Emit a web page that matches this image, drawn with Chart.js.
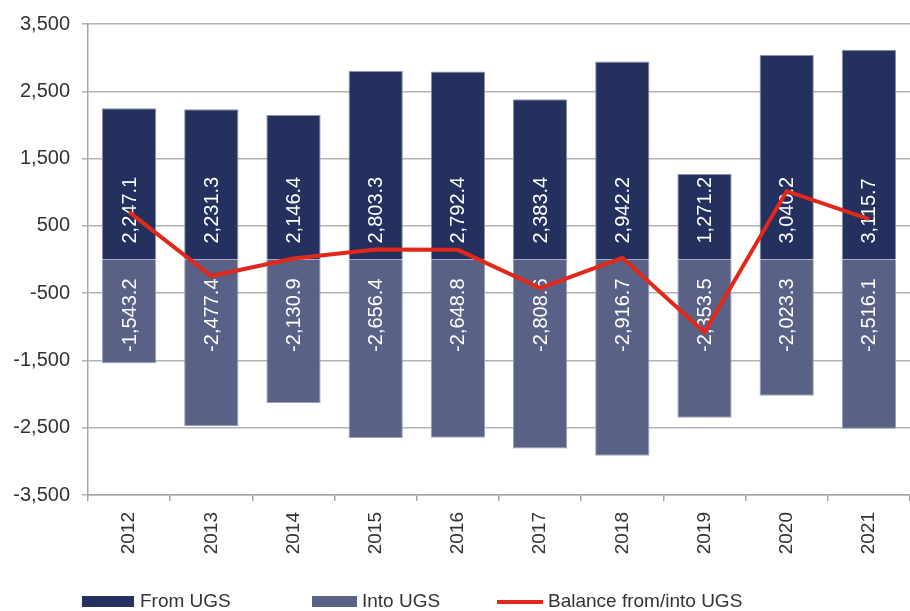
<!DOCTYPE html>
<html>
<head>
<meta charset="utf-8">
<script src="https://cdn.jsdelivr.net/npm/chart.js@4"></script>
<style>
  html, body { margin: 0; padding: 0; background: #fff; }
  #wrap { position: relative; width: 910px; height: 611px; }
  canvas { position: absolute; left: 0; top: 0; }
  .lg { position: absolute; font-family: "Liberation Sans", Arial, sans-serif; font-size: 19px; color: #333; line-height: 20px; white-space: nowrap; }
  .sw { position: absolute; }
</style>
</head>
<body>
<div id="wrap">
  <canvas id="c" width="910" height="611"></canvas>
  <div class="sw" style="left:82px; top:596px; width:52px; height:11px; background:#24305E;"></div>
  <div class="lg" style="left:140px; top:591px;">From UGS</div>
  <div class="sw" style="left:312px; top:596px; width:45px; height:11px; background:#596186;"></div>
  <div class="lg" style="left:362px; top:591px;">Into UGS</div>
  <div class="sw" style="left:497px; top:600px; width:46px; height:4px; background:#E2281B;"></div>
  <div class="lg" style="left:548px; top:591px;">Balance from/into UGS</div>
</div>
<script>
const categories = ["2012","2013","2014","2015","2016","2017","2018","2019","2020","2021"];
const fromUGS = [2247.1, 2231.3, 2146.4, 2803.3, 2792.4, 2383.4, 2942.2, 1271.2, 3040.2, 3115.7];
const intoUGS = [-1543.2, -2477.4, -2130.9, -2656.4, -2648.8, -2808.6, -2916.7, -2353.5, -2023.3, -2516.1];
const balance = [703.9, -246.1, 15.5, 146.9, 143.6, -425.2, 25.5, -1082.3, 1016.9, 599.6];
const yTicks = [-3500, -2500, -1500, -500, 500, 1500, 2500, 3500];

const FONT = '"Liberation Sans", Arial, sans-serif';
const fmt = v => v.toLocaleString('en-US', {minimumFractionDigits: 1, maximumFractionDigits: 1});

const labelPlugin = {
  id: 'barLabels',
  afterDatasetDraw(chart, args) {
    const ds = chart.data.datasets[args.index];
    if (ds.type === 'line') return;
    const ctx = chart.ctx;
    const zero = chart.scales.y.getPixelForValue(0);
    ctx.save();
    ctx.font = '20px ' + FONT;
    ctx.fillStyle = '#ffffff';
    ctx.textBaseline = 'middle';
    args.meta.data.forEach((el, i) => {
      const v = ds.data[i];
      ctx.save();
      if (v >= 0) {
        ctx.translate(el.x, zero - 16);
        ctx.rotate(-Math.PI / 2);
        ctx.textAlign = 'left';
      } else {
        ctx.translate(el.x, zero + 19);
        ctx.rotate(-Math.PI / 2);
        ctx.textAlign = 'right';
      }
      ctx.fillText(fmt(v), 0, 1);
      ctx.restore();
    });
    ctx.restore();
  }
};

new Chart(document.getElementById('c'), {
  data: {
    labels: categories,
    datasets: [
      { type: 'line', label: 'Balance from/into UGS', data: balance, borderColor: '#E2281B', borderWidth: 4,
        pointRadius: 0, tension: 0, stack: 'balance', order: 0 },
      { type: 'bar', label: 'From UGS', data: fromUGS, backgroundColor: '#24305E', borderColor: '#8a92b0', borderWidth: 1,
        stack: 'flows', order: 1, categoryPercentage: 1, barPercentage: 0.66 },
      { type: 'bar', label: 'Into UGS', data: intoUGS, backgroundColor: '#596186', borderColor: '#9aa1bd', borderWidth: 1,
        stack: 'flows', order: 1, categoryPercentage: 1, barPercentage: 0.66 }
    ]
  },
  options: {
    responsive: false,
    animation: false,
    layout: { padding: { top: 21, right: 0, left: 0, bottom: 0 } },
    plugins: { legend: { display: false }, tooltip: { enabled: false } },
    scales: {
      x: {
        stacked: true,
        offset: true,
        grid: { drawOnChartArea: false, drawTicks: true, tickLength: 6, color: '#a6a6a6', lineWidth: 1.5, offset: true },
        border: { display: true, color: '#a6a6a6', width: 1.5 },
        ticks: { color: '#333', font: { family: FONT, size: 19 }, minRotation: 90, maxRotation: 90, padding: 11, autoSkip: false },
        afterFit(s) { s.height = 116; }
      },
      y: {
        stacked: true,
        min: -3500, max: 3500,
        afterBuildTicks(s) { s.ticks = yTicks.map(v => ({ value: v })); },
        grid: { color: '#b3b3b3', lineWidth: 1.5, tickLength: 6 },
        border: { display: true, color: '#a6a6a6', width: 1.5 },
        ticks: { color: '#333', font: { family: FONT, size: 20 }, padding: 12,
                 callback: v => v.toLocaleString('en-US') },
        afterFit(s) { s.width = 88; }
      }
    }
  },
  plugins: [labelPlugin]
});
</script>
</body>
</html>
